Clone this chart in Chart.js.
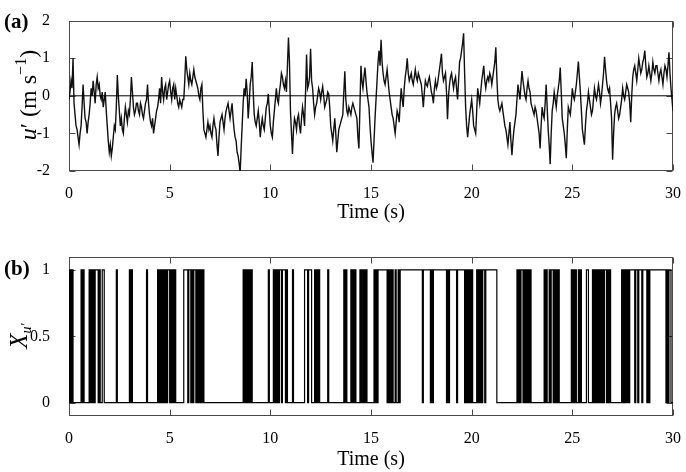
<!DOCTYPE html>
<html>
<head>
<meta charset="utf-8">
<script src="https://cdn.jsdelivr.net/npm/chart.js@4.4.1/dist/chart.umd.min.js"></script>
<style>
    html, body { margin: 0; padding: 0; background: #fff; }
    #wrap { position: relative; width: 686px; height: 472px; }
    canvas { position: absolute; left: 0; }
    #chartA { top: 0; }
    #chartB { top: 236px; }
</style>
</head>
<body>
<div id="wrap">
    <canvas id="chartA" width="686" height="236"></canvas>
    <canvas id="chartB" width="686" height="236"></canvas>
</div>
<script>
// --- Data ---
const timeTicks = [0, 5, 10, 15, 20, 25, 30];
const uTicks = [-2, -1, 0, 1, 2];
const xTicks = [0, 0.5, 1];

// u' (m/s), one sample every 0.05 s from 0 to 30 s (one row per second)
const uStep = 0.05;
const uPrime = [
    -0.1, 0.1, 0.4, 0.2, 1.0, -0.2, -0.5, -0.8, -0.9, -1.1, -1.3, -1.0, -0.8, -0.3, 0.3, -0.2, -0.6, -0.7, -1.0, -0.7,
    -0.5, -0.2, 0.2, 0.0, 0.4, 0.1, -0.2, 0.3, 0.5, 0.2, 0.3, 0.0, -0.1, 0.1, -0.3, -0.1, 0.1, -0.4, -0.8, -1.2,
    -1.5, -1.3, -1.6, -1.4, -1.1, -0.8, -0.9, -0.3, 0.55, 0.0, -0.4, -0.8, -0.6, -0.9, -1.0, -0.6, -0.3, -0.5, -0.7, -0.4,
    -0.5, -0.1, 0.5, 0.1, -0.3, -0.5, -0.4, -0.2, -0.2, -0.4, -0.5, -0.2, -0.3, -0.5, -0.6, -0.4, -0.2, -0.1, 0.3, -0.2,
    -0.5, -0.7, -0.8, -0.6, -1.0, -0.8, -0.6, -0.4, -0.3, -0.1, 0.2, -0.2, 0.5, 0.1, -0.1, 0.2, 0.3, -0.1, 0.1, 0.3,
    0.4, 0.1, -0.1, 0.2, 0.3, -0.1, 0.2, 0.0, -0.2, -0.3, -0.1, -0.2, -0.3, -0.1, -0.1, 0.4, 1.05, 0.7, 0.5, 0.3,
    0.6, 0.4, 0.3, 0.5, 0.7, 0.5, 0.4, 0.3, 0.2, 0.0, -0.1, 0.2, 0.3, -0.4, -0.9, -1.0, -1.1, -0.9, -0.7, -0.9,
    -0.8, -1.0, -1.1, -0.8, -0.6, -0.8, -0.9, -1.3, -1.6, -1.1, -0.7, -0.6, -0.5, -0.7, -0.9, -0.6, -0.4, -0.3, -0.2, -0.4,
    -0.6, -0.4, -0.2, -0.6, -0.9, -1.1, -1.2, -1.5, -1.6, -1.8, -2.05, -1.4, -0.8, -0.2, 0.2, 0.0, 0.45, 0.1, -0.6, -0.2,
    0.3, 0.5, 0.9, 0.1, -0.5, -0.7, -0.8, -0.6, -0.4, -0.7, -1.1, -0.8, -0.6, -0.8, -0.9, -0.6, -0.3, -0.2, 0.05, -0.4,
    -0.8, -1.0, -1.1, -0.7, -0.4, -0.1, 0.2, -0.1, -0.2, 0.1, 0.3, 0.6, 0.5, 0.3, 0.2, 0.4, 0.1, 0.8, 1.55, 0.9,
    -0.4, -1.0, -1.55, -0.9, -0.6, -0.7, -0.9, -0.6, -0.5, -0.8, -1.0, -0.6, -0.3, -0.5, -0.8, 0.1, 1.1, 0.2, 0.3, 0.5,
    1.25, 0.4, 0.2, -0.2, -0.5, -0.3, -0.2, 0.0, 0.2, 0.1, -0.1, 0.1, 0.25, 0.0, -0.3, -0.2, -0.1, 0.1, 0.05, -0.3,
    -0.8, -1.0, -1.2, -0.9, -0.6, -1.0, -1.5, -1.2, -0.9, -0.8, -0.7, -0.6, -0.5, 0.1, 0.65, -0.1, -0.4, -0.5, -0.3, -0.4,
    -0.5, -0.3, -0.2, -0.3, -0.4, -0.5, -0.6, -1.1, -1.4, -0.3, 0.8, 0.4, 0.2, 0.5, 0.75, 0.4, 0.1, -0.1, -0.3, -0.8,
    -1.2, -1.5, -1.78, -1.2, -0.6, -0.1, 0.4, 0.9, 1.2, 0.8, 1.49, 0.9, 0.6, 0.4, 0.3, 0.5, 0.7, 0.4, 0.1, -0.1,
    -0.3, -0.5, -0.6, -0.8, -1.0, -0.7, -0.4, -0.5, -0.7, -0.2, 0.2, -0.1, -0.3, 0.2, 0.5, 0.7, 1.0, 0.6, 0.4, 0.5,
    0.6, 0.4, 0.3, 0.5, 0.7, 0.5, 0.4, 0.6, 0.5, 0.4, 0.3, 0.0, -0.3, 0.1, 0.4, 0.3, 0.25, 0.4, 0.5, 0.3,
    0.1, 0.0, -0.2, 0.2, 0.4, 0.2, 0.3, 0.5, 0.7, 0.9, 1.12, 0.6, 0.4, 0.5, 0.6, 0.1, -0.62, 0.0, 0.3, 0.5,
    0.6, 0.4, 0.2, 0.4, 0.5, 0.2, -0.1, 0.4, 0.9, 1.0, 1.2, 1.4, 1.66, 0.6, -0.3, -0.8, -1.1, -0.8, -0.5, -0.3,
    -0.1, -0.4, -0.8, -0.9, -1.0, -0.4, 0.2, 0.0, -0.2, 0.1, 0.4, 0.6, 0.8, 0.4, 0.2, 0.4, 0.5, 0.4, 0.6, 0.5,
    0.3, 0.5, 0.7, 0.9, 1.29, 0.5, -0.1, -0.3, -0.4, -0.3, -0.2, -0.4, -0.6, -0.8, -0.9, -1.1, -1.3, -1.0, -0.7, -1.2,
    -1.58, -1.2, -0.9, -0.7, -0.5, -0.1, 0.3, 0.1, -0.1, 0.3, 0.66, 0.4, 0.2, 0.0, -0.1, 0.2, 0.4, 0.2, 0.1, -0.2,
    -0.3, -0.4, -0.5, -0.3, -0.4, -0.6, -0.8, -1.0, -1.4, -0.8, -0.3, -0.5, -0.6, -0.2, 0.3, -0.3, -0.9, -1.3, -1.82, -1.0,
    -0.4, -0.2, 0.1, -0.1, -0.3, 0.0, 0.2, 0.4, 0.75, 0.1, -0.6, -0.8, -1.0, -1.3, -1.66, -0.9, -0.3, -0.4, -0.5, -0.2,
    0.2, 0.0, -0.1, 0.1, 0.3, 0.6, 0.91, 0.5, 0.1, -0.4, -0.9, -1.1, -1.3, -0.8, -0.4, -0.2, 0.1, -0.1, -0.3, -0.5,
    -0.4, -0.1, 0.2, 0.0, -0.1, 0.1, 0.3, 0.1, -0.2, 0.0, 0.3, 0.6, 1.04, 0.7, 0.4, 0.2, 0.1, 0.2, -0.2, -0.6,
    -1.7, -1.0, -0.5, -0.3, -0.2, -0.4, -0.6, -0.5, -0.3, -0.1, 0.2, 0.0, -0.1, 0.1, 0.3, 0.2, 0.1, -0.2, -0.7, 0.0,
    0.5, 0.7, 0.8, 0.6, 0.4, 0.7, 1.0, 0.8, 0.6, 0.7, 0.9, 1.0, 1.2, 0.8, 0.5, 0.6, 0.8, 0.6, 0.4, 0.6,
    0.9, 0.7, 0.6, 0.8, 0.8, 0.6, 0.4, 0.6, 0.7, 0.5, 0.3, 0.6, 0.8, 0.7, 0.5, 0.8, 1.16, 0.6, 0.2, -0.1,
    -0.4
];

// X_u' indicator, one digit every 0.05 s, one row per 5 s (zeros(n) / ones(n) are plain runs)
const zeros = n => '0'.repeat(n);
const ones = n => '1'.repeat(n);
const xStep = 0.05;
const xRows = [
    ['10101', zeros(8), '1010', zeros(4), '1010101', '11', '010', '0', '11', zeros(12), '1', zeros(12),
     '1010', zeros(13), '1', zeros(10), '1010101', '0', '101'],
    ['10101', '0', '1', zeros(8), ones(4), '0', '11', '0', '1', '0', '11', '01', '0101010', zeros(38),
     '10101', '0', '1010', zeros(15), '1'],
    [zeros(4), '101010', '11', '0', '111', '010', zeros(4), '1', zeros(11), '111', '0', '111', zeros(3),
     '101010', zeros(7), '1', zeros(15), '1010', zeros(3), '101', '0', '1', zeros(4), '1010101', zeros(3)],
    [zeros(4), '10101', ones(8), '0101010', '010', '0', '1', '0', ones(22), '01', ones(6), '010', ones(13),
     '0101', ones(6), '0', ones(7), '010101'],
    ['01', zeros(4), '101010', '11011', ones(9), zeros(20), '10101', '1', '01010101', zeros(13), '101', '00',
     '101', '101', '0', '101', zeros(12)],
    ['101010', '0', '1010', zeros(4), '11', zeros(4), '1010101010', '1', '0', '11', '0101', zeros(11),
     '10101', '0', '101', '111', '1', '0', '11', '0', '111', '0', '1111', '0', '1', '0', ones(16), '0101', '1', '0']
];
const xBits = xRows.map(r => r.join('')).join('').split('').map(Number);

// --- Datasets ---
const uData = uPrime.map((v, i) => ({ x: +(i * uStep).toFixed(2), y: v }));
const xData = xBits.map((v, i) => ({ x: +(i * xStep).toFixed(2), y: v }));
xData.push({ x: 30, y: xBits[xBits.length - 1] });

const serif = "'Liberation Serif', 'Times New Roman', serif";

function drawPieces(ctx, pieces) {
    let w = 0;
    pieces.forEach(p => { ctx.font = p.font; p.w = ctx.measureText(p.t).width; w += p.w; });
    let cx = -w / 2;
    pieces.forEach(p => {
        ctx.font = p.font;
        ctx.fillText(p.t, cx, p.dy || 0);
        cx += p.w;
    });
}

// box, inward ticks and the text labels
const framePlugin = {
    id: 'frame',
    beforeDatasetsDraw(chart) {
        const { ctx, chartArea: a, scales: { x, y } } = chart;
        ctx.save();
        ctx.strokeStyle = '#4a4a4a';
        ctx.lineWidth = 1;
        const L = Math.round(a.left) + 0.5, R = Math.round(a.right) - 0.5;
        const T = Math.round(a.top) + 0.5, B = Math.round(a.bottom) - 0.5;
        ctx.strokeRect(L, T, R - L, B - T);
        ctx.beginPath();
        x.ticks.forEach(t => {
            const px = Math.round(x.getPixelForValue(t.value)) + 0.5;
            ctx.moveTo(px, B); ctx.lineTo(px, B - 6);
            ctx.moveTo(px, T); ctx.lineTo(px, T + 6);
        });
        y.ticks.forEach(t => {
            const py = Math.round(y.getPixelForValue(t.value)) + 0.5;
            ctx.moveTo(L, py); ctx.lineTo(L + 6, py);
            ctx.moveTo(R, py); ctx.lineTo(R - 6, py);
        });
        ctx.stroke();
        ctx.restore();
    },
    afterDraw(chart, args, opts) {
        const { ctx, chartArea: a } = chart;
        ctx.save();
        ctx.fillStyle = '#000';
        ctx.textBaseline = 'alphabetic';

        // panel tag
        ctx.font = 'bold 21px ' + serif;
        ctx.textAlign = 'left';
        ctx.fillText(opts.tag, 4, opts.tagY);

        // x title
        ctx.font = '20px ' + serif;
        ctx.textAlign = 'center';
        ctx.fillText('Time (s)', (a.left + a.right) / 2, opts.titleY);

        // y title
        ctx.textAlign = 'left';
        ctx.translate(opts.yTitleX, opts.yTitleY);
        ctx.rotate(-Math.PI / 2);
        drawPieces(ctx, opts.yTitle);
        ctx.restore();
    }
};

function tickFont() {
    return { family: serif, size: 16 };
}

function makeChart(id, datasets, yMin, yMax, yTicks, padTop, xHeight, frameOpts) {
    return new Chart(document.getElementById(id), {
        type: 'line',
        data: { datasets },
        options: {
            responsive: false,
            animation: false,
            devicePixelRatio: 1,
            parsing: false,
            layout: { padding: { left: 0, right: 10, top: padTop, bottom: 0 } },
            plugins: { legend: { display: false }, tooltip: { enabled: false }, frame: frameOpts },
            elements: { point: { radius: 0 }, line: { tension: 0 } },
            scales: {
                x: {
                    type: 'linear', min: 0, max: 30,
                    afterBuildTicks: s => { s.ticks = timeTicks.map(v => ({ value: v })); },
                    afterFit: s => { s.height = xHeight; },
                    grid: { display: false }, border: { display: false },
                    ticks: { font: tickFont(), color: '#000', padding: 5, maxRotation: 0, autoSkip: false }
                },
                y: {
                    type: 'linear', min: yMin, max: yMax,
                    afterBuildTicks: s => { s.ticks = yTicks.map(v => ({ value: v })); },
                    afterFit: s => { s.width = 69; },
                    grid: { display: false }, border: { display: false },
                    ticks: { font: tickFont(), color: '#000', padding: 11, callback: v => String(v) }
                }
            }
        },
        plugins: [framePlugin]
    });
}

const chartA = makeChart('chartA', [
    { data: [{ x: 0, y: 0 }, { x: 30, y: 0 }], borderColor: '#000', borderWidth: 1 },
    { data: uData, borderColor: '#111', borderWidth: 1.4 }
], -2, 2, uTicks, 10, 65, {
    tag: '(a)', tagY: 28, titleY: 218, yTitleX: 36, yTitleY: 95,
    yTitle: [
        { t: 'u', font: 'italic 24px ' + serif },
        { t: '\u2032', font: '24px ' + serif },
        { t: ' (m s', font: '24px ' + serif },
        { t: '\u22121', font: '16px ' + serif, dy: -10 },
        { t: ')', font: '24px ' + serif }
    ]
});

const chartB = makeChart('chartB', [
    { data: xData, borderColor: '#000', borderWidth: 1.2, stepped: 'after' }
], -0.1, 1.1, xTicks, 17, 56, {
    tag: '(b)', tagY: 39, titleY: 229, yTitleX: 27, yTitleY: 100,
    yTitle: [
        { t: 'X', font: 'italic 25px ' + serif },
        { t: 'u\u2032', font: 'italic 14px ' + serif, dy: 4 }
    ]
});
</script>
</body>
</html>
